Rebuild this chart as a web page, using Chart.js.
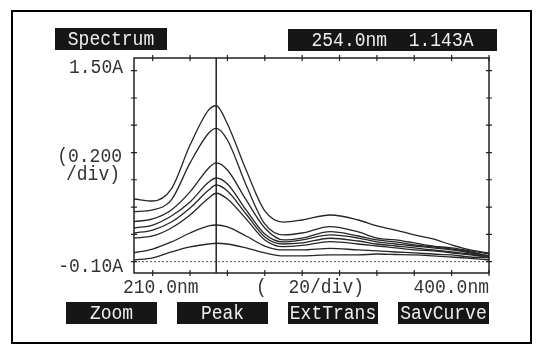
<!DOCTYPE html>
<html>
<head>
<meta charset="utf-8">
<script src="https://cdn.jsdelivr.net/npm/chart.js@4"></script>
<style>
  html, body { margin: 0; padding: 0; background: #fff; }
  #wrap { position: relative; width: 540px; height: 352px; overflow: hidden; }
  #chart { position: absolute; left: 0; top: 0; }
  .frame { position: absolute; left: 11px; top: 10px; width: 517px; height: 330px; border: 2px solid #000; }
  .lbl { position: absolute; font-family: "Liberation Mono", monospace; font-size: 18px; line-height: 22px;
         color: #333; white-space: pre; transform: scaleY(1.15); }
  .box { position: absolute; height: 22px; background: #161616; color: #eee; text-align: center;
         font-family: "Liberation Mono", monospace; font-size: 18px; line-height: 22px; white-space: pre; }
  .box span { display: inline-block; transform: scaleY(1.15); }
</style>
</head>
<body>
<div id="wrap">
  <canvas id="chart" width="540" height="352"></canvas>
  <div class="frame"></div>

  <div class="box" style="left:55px; top:28px; width:112px;"><span>Spectrum</span></div>
  <div class="box" style="left:288px; top:29px; width:209px;"><span>254.0nm  1.143A</span></div>

  <div class="lbl" style="right:417px; top:56px;">1.50A</div>
  <div class="lbl" style="right:418px; top:145px;">(0.200</div>
  <div class="lbl" style="right:420px; top:163px;">/div)</div>
  <div class="lbl" style="right:417px; top:255px;">-0.10A</div>

  <div class="lbl" style="left:123px; top:276px;">210.0nm</div>
  <div class="lbl" style="left:256px; top:276px;">(  20/div)</div>
  <div class="lbl" style="right:51px; top:276px;">400.0nm</div>

  <div class="box" style="left:66px; top:302px; width:91px;"><span>Zoom</span></div>
  <div class="box" style="left:177px; top:302px; width:91px;"><span>Peak</span></div>
  <div class="box" style="left:288px; top:302px; width:90px;"><span>ExtTrans</span></div>
  <div class="box" style="left:398px; top:302px; width:91px;"><span>SavCurve</span></div>
</div>

<script>
// Длины волн (нм)
const WAVELENGTHS = [210, 220, 230, 240, 250, 254, 260, 270, 280, 290, 300, 315, 330, 340, 350, 360, 370, 380, 390, 400];

// Спектры поглощения (A), сверху вниз
const CURVE_1 = [0.425, 0.408, 0.509, 0.877, 1.171, 1.206, 1.053, 0.668, 0.325, 0.232, 0.249, 0.291, 0.249, 0.199, 0.165, 0.124, 0.090, 0.040, -0.002, -0.027];
const CURVE_2 = [0.319, 0.333, 0.417, 0.727, 0.978, 1.017, 0.919, 0.542, 0.216, 0.124, 0.140, 0.193, 0.149, 0.098, 0.082, 0.057, 0.031, 0.015, -0.010, -0.036];
const CURVE_3 = [0.235, 0.258, 0.333, 0.484, 0.685, 0.727, 0.668, 0.417, 0.182, 0.082, 0.098, 0.151, 0.115, 0.082, 0.065, 0.040, 0.023, 0.006, -0.019, -0.052];
const CURVE_4 = [0.182, 0.207, 0.283, 0.400, 0.567, 0.601, 0.551, 0.333, 0.132, 0.065, 0.082, 0.124, 0.098, 0.065, 0.048, 0.031, 0.015, -0.002, -0.027, -0.052];
const CURVE_5 = [0.140, 0.165, 0.232, 0.350, 0.500, 0.542, 0.492, 0.299, 0.107, 0.048, 0.057, 0.096, 0.073, 0.048, 0.031, 0.015, -0.002, -0.019, -0.036, -0.061];
const CURVE_6 = [0.098, 0.115, 0.182, 0.291, 0.433, 0.473, 0.425, 0.258, 0.082, 0.026, 0.036, 0.068, 0.048, 0.031, 0.015, -0.002, -0.010, -0.027, -0.044, -0.061];
const CURVE_7 = [-0.025, 0.006, 0.065, 0.140, 0.199, 0.207, 0.191, 0.115, 0.031, -0.002, -0.002, 0.012, -0.002, -0.010, -0.019, -0.027, -0.036, -0.044, -0.061, -0.069];
const CURVE_8 = [-0.086, -0.069, -0.019, 0.023, 0.048, 0.054, 0.048, 0.015, -0.027, -0.052, -0.052, -0.044, -0.044, -0.036, -0.040, -0.044, -0.052, -0.061, -0.073, -0.086];

// Оси
const X_MIN = 210;
const X_MAX = 400;
const X_TICKS = [220, 240, 260, 280, 300, 320, 340, 360, 380, 400];
const Y_MIN = -0.195;
const Y_MAX = 1.606;
const Y_TICKS = [-0.10, 0.129, 0.357, 0.586, 0.814, 1.043, 1.271, 1.50];
const BASELINE = -0.10;
const CURSOR_NM = 254;

const curves = [CURVE_1, CURVE_2, CURVE_3, CURVE_4, CURVE_5, CURVE_6, CURVE_7, CURVE_8];

// Рамка, засечки, курсор и пунктир базовой линии
const framePlugin = {
    id: 'frame',
    beforeDatasetsDraw(chart) {
        const { ctx, chartArea: a, scales: { y } } = chart;
        const yb = y.getPixelForValue(BASELINE);
        ctx.save();
        ctx.strokeStyle = '#555';
        ctx.lineWidth = 1;
        ctx.setLineDash([2, 2]);
        ctx.beginPath();
        ctx.moveTo(a.left, yb);
        ctx.lineTo(a.right, yb);
        ctx.stroke();
        ctx.restore();
    },
    afterDatasetsDraw(chart) {
        const { ctx, chartArea: a, scales: { x, y } } = chart;
        ctx.save();
        ctx.strokeStyle = '#222';
        ctx.lineWidth = 1.5;
        ctx.strokeRect(a.left, a.top, a.right - a.left, a.bottom - a.top);

        ctx.lineWidth = 1.2;
        ctx.beginPath();
        X_TICKS.forEach(v => {
            const px = x.getPixelForValue(v);
            ctx.moveTo(px, a.top - 3); ctx.lineTo(px, a.top + 3);
            ctx.moveTo(px, a.bottom - 3); ctx.lineTo(px, a.bottom + 3);
        });
        Y_TICKS.forEach(v => {
            const py = y.getPixelForValue(v);
            ctx.moveTo(a.left - 3, py); ctx.lineTo(a.left + 3, py);
            ctx.moveTo(a.right - 3, py); ctx.lineTo(a.right + 3, py);
        });
        ctx.stroke();

        // Курсор
        const cx = x.getPixelForValue(CURSOR_NM);
        ctx.lineWidth = 1.5;
        ctx.beginPath();
        ctx.moveTo(cx, a.top);
        ctx.lineTo(cx, a.bottom);
        ctx.stroke();
        ctx.restore();
    }
};

new Chart(document.getElementById('chart'), {
    type: 'line',
    data: {
        datasets: curves.map((c, i) => ({
            label: 'Curve ' + (i + 1),
            data: WAVELENGTHS.map((w, j) => ({ x: w, y: c[j] })),
            borderColor: '#262626',
            borderWidth: 1.3,
            pointRadius: 0,
            fill: false,
            cubicInterpolationMode: 'monotone'
        }))
    },
    options: {
        responsive: false,
        animation: false,
        devicePixelRatio: 1,
        layout: { padding: { left: 134, top: 58, right: 51, bottom: 79 } },
        plugins: { legend: { display: false }, tooltip: { enabled: false } },
        scales: {
            x: { type: 'linear', min: X_MIN, max: X_MAX, display: false },
            y: { type: 'linear', min: Y_MIN, max: Y_MAX, display: false }
        }
    },
    plugins: [framePlugin]
});
</script>
</body>
</html>
